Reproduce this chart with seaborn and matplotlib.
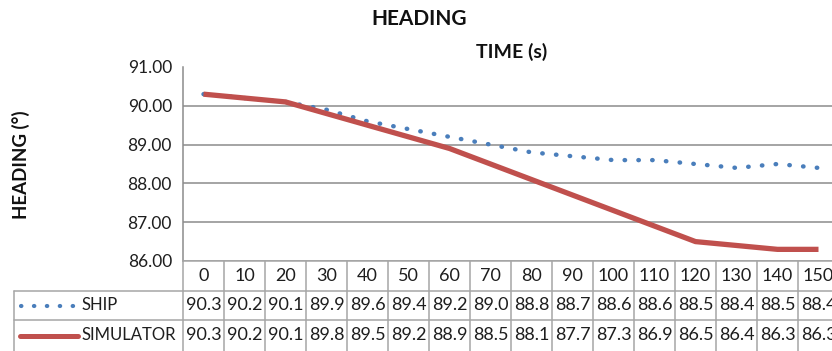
import matplotlib
matplotlib.use("Agg")
import matplotlib.pyplot as plt
import seaborn as sns
import pandas as pd
from matplotlib.lines import Line2D

# Heading record: sea trial vs. simulator
time_s = [0, 10, 20, 30, 40, 50, 60, 70, 80, 90, 100, 110, 120, 130, 140, 150]
ship = [90.3, 90.2, 90.1, 89.9, 89.6, 89.4, 89.2, 89.0, 88.8, 88.7,
        88.6, 88.6, 88.5, 88.4, 88.5, 88.4]
simulator = [90.3, 90.2, 90.1, 89.8, 89.5, 89.2, 88.9, 88.5, 88.1, 87.7,
             87.3, 86.9, 86.5, 86.4, 86.3, 86.3]
y_ticks = [86, 87, 88, 89, 90, 91]

sns.set_theme(style="white")
plt.rcParams["font.family"] = ["Lato", "DejaVu Sans"]

SHIP_C = "#4a7ebb"
SIM_C = "#c0504d"
GRID_C = "#8c8c8c"
TABLE_C = "#a6a6a6"
TXT_C = "#1e1e1e"

W, H = 832, 351
fig = plt.figure(figsize=(W / 100, H / 100), dpi=100)

# axes in pixel terms: left edge 183, 41 px per category, y from 261 (86) to 67 (91)
left_px, col_px = 183, 41
ax = fig.add_axes([left_px / W, (H - 261) / H, 16 * col_px / W, (261 - 67) / H])

df = pd.DataFrame({"idx": range(len(time_s)), "SHIP": ship, "SIMULATOR": simulator})
sns.lineplot(data=df, x="idx", y="SHIP", ax=ax, color=SHIP_C, lw=3.2,
             linestyle=(0, (0.1, 3.0)))
ax.lines[-1].set_dash_capstyle("round")
sns.lineplot(data=df, x="idx", y="SIMULATOR", ax=ax, color=SIM_C, lw=3.8)
ax.lines[-1].set_solid_capstyle("butt")

ax.set_xlim(-0.5, len(time_s) - 0.5)
ax.set_ylim(86, 91)
ax.set_yticks(y_ticks)
ax.set_yticklabels([f"{v:.2f}" for v in y_ticks], fontsize=12.5, color=TXT_C)
ax.tick_params(axis="y", length=0, pad=8)
ax.set_xticks([])
ax.set_xlabel("")
ax.set_ylabel("")
for v in y_ticks[:-1]:
    ax.axhline(v, color=GRID_C, lw=1.1, zorder=0)
for s in ["top", "right", "bottom"]:
    ax.spines[s].set_visible(False)
ax.spines["left"].set_color(GRID_C)
ax.spines["left"].set_linewidth(1.1)

# ---- data table under the plot (drawn in figure pixel coordinates) ----
def fx(px):
    return px / W

def fy(py):
    return (H - py) / H

def hline(x0, x1, y):
    fig.add_artist(Line2D([fx(x0), fx(x1)], [fy(y), fy(y)], color=TABLE_C, lw=1.1))

def vline(x, y0, y1):
    fig.add_artist(Line2D([fx(x), fx(x)], [fy(y0), fy(y1)], color=TABLE_C, lw=1.1))

row_top, row1, row2, row_end = 261, 291, 320, 355
table_right = left_px + 16 * col_px
label_left = 14

hline(left_px, table_right, row_top)
hline(label_left, table_right, row1)
hline(label_left, table_right, row2)
vline(label_left, row1, row_end)
for i in range(17):
    vline(left_px + i * col_px, row_top, row_end)

cell_fs = 13
y_head = (row_top + row1) / 2
y_ship = (row1 + row2) / 2
y_sim = (row2 + row_end - 4) / 2
for i, t in enumerate(time_s):
    cx = left_px + (i + 0.5) * col_px
    fig.text(fx(cx), fy(y_head), str(t), ha="center", va="center",
             fontsize=cell_fs, color=TXT_C)
    fig.text(fx(cx), fy(y_ship), f"{ship[i]:.1f}", ha="center", va="center",
             fontsize=cell_fs, color=TXT_C)
    fig.text(fx(cx), fy(y_sim), f"{simulator[i]:.1f}", ha="center", va="center",
             fontsize=cell_fs, color=TXT_C)

# legend keys inside row-label cells
fig.add_artist(Line2D([fx(21), fx(74)], [fy(y_ship), fy(y_ship)], color=SHIP_C, lw=3.0,
                      linestyle=(0, (0.1, 3.0)), dash_capstyle="round"))
fig.add_artist(Line2D([fx(20), fx(78)], [fy(y_sim), fy(y_sim)], color=SIM_C, lw=3.6))
label_fs = 12
fig.text(fx(81), fy(y_ship), "SHIP", ha="left", va="center", fontsize=label_fs, color=TXT_C)
fig.text(fx(81), fy(y_sim), "SIMULATOR", ha="left", va="center", fontsize=label_fs, color=TXT_C)

# titles
fig.text(fx(419), fy(19), "HEADING", ha="center", va="center", fontsize=15,
         fontweight="bold", color="#111111")
fig.text(fx(512), fy(52), "TIME (s)", ha="center", va="center", fontsize=14,
         fontweight="bold", color="#111111")
fig.text(fx(21), fy(165), "HEADING (°)", ha="center", va="center", fontsize=13.5,
         fontweight="bold", rotation=90, color="#111111")

fig.savefig("out.png", dpi=100, facecolor="white")
